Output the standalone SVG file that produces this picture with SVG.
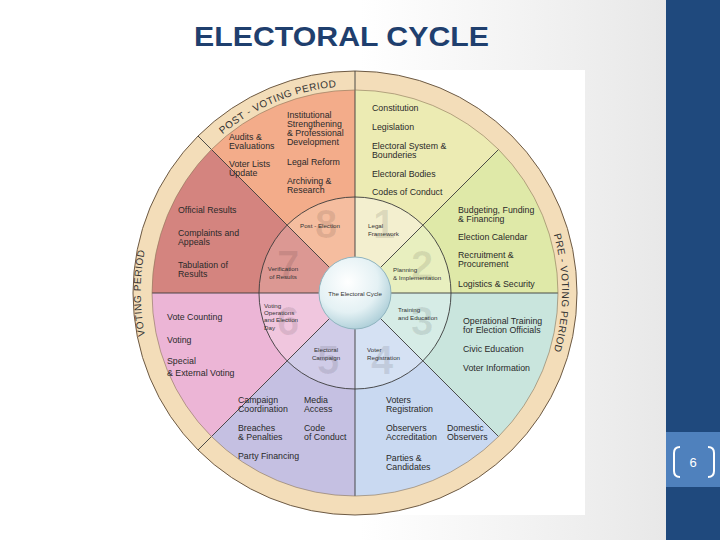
<svg xmlns="http://www.w3.org/2000/svg" width="720" height="540" viewBox="0 0 720 540">
<defs>
<linearGradient id="bg" x1="0" y1="0" x2="1" y2="0"><stop offset="0.5" stop-color="#ffffff"/><stop offset="1" stop-color="#e4e4e4"/></linearGradient>
<radialGradient id="hub" cx="0.4" cy="0.35" r="0.7"><stop offset="0" stop-color="#ffffff"/><stop offset="0.6" stop-color="#e4f1f4"/><stop offset="1" stop-color="#a9ccd6"/></radialGradient>
<path id="arcPost" d="M209,146.6 A207,207 0 0 1 355,86"/>
<path id="arcPre" d="M534.3,189.5 A207,207 0 0 1 534.3,396.5"/>
<path id="arcVote" d="M160,382 A215,215 0 0 1 160,204"/>
</defs>
<style>
.t{font-family:"Liberation Sans",Arial,sans-serif;font-size:8.8px;fill:#2a2a2a}
.s{font-family:"Liberation Sans",Arial,sans-serif;font-size:6.2px;fill:#333}
.d{font-family:"Liberation Sans",Arial,sans-serif;font-size:40px;font-weight:bold;fill:#000;fill-opacity:0.09;text-anchor:middle;dominant-baseline:central}
.r{font-family:"Liberation Sans",Arial,sans-serif;font-size:10px;fill:#333;letter-spacing:0.5px}
.ln{stroke:#3a3a3a;stroke-width:0.9;fill:none}
</style>
<rect width="720" height="540" fill="url(#bg)"/>
<rect x="666" y="0" width="54" height="540" fill="#1f497d"/>
<rect x="666" y="432" width="54" height="55" fill="#4f81bd"/>
<g id="pagenum" fill="none" stroke="#fff" stroke-width="2">
<path d="M680,447 Q674,447 674,453 L674,471 Q674,477 680,477"/>
<path d="M708,447 Q714,447 714,453 L714,471 Q714,477 708,477"/>
</g>
<text x="693" y="467" font-family="Liberation Sans,Arial,sans-serif" font-size="13" fill="#fff" text-anchor="middle">6</text>
<text x="194" y="46" font-family="Liberation Sans,Arial,sans-serif" font-size="27" font-weight="bold" fill="#1f3f6e" textLength="295" lengthAdjust="spacingAndGlyphs">ELECTORAL CYCLE</text>
<rect x="145" y="70" width="440" height="445" fill="#ffffff"/>
<g id="wheel">
<circle cx="355" cy="293" r="222" fill="#f3ddb9" stroke="#6d5a44" stroke-width="1"/>
<g id="outer">
<path d="M355,293 L355,90 A203,203 0 0 1 498.5,149.5 Z" fill="#ecebb3"/>
<path d="M355,293 L498.5,149.5 A203,203 0 0 1 558,293 Z" fill="#dfe9a8"/>
<path d="M355,293 L558,293 A203,203 0 0 1 498.5,436.5 Z" fill="#c9e5dd"/>
<path d="M355,293 L498.5,436.5 A203,203 0 0 1 355,496 Z" fill="#c9d9f1"/>
<path d="M355,293 L355,496 A203,203 0 0 1 211.5,436.5 Z" fill="#c5c0e2"/>
<path d="M355,293 L211.5,436.5 A203,203 0 0 1 152,293 Z" fill="#ecb5d6"/>
<path d="M355,293 L152,293 A203,203 0 0 1 211.5,149.5 Z" fill="#d4847f"/>
<path d="M355,293 L211.5,149.5 A203,203 0 0 1 355,90 Z" fill="#f3ac8a"/>
</g>
<g id="inner">
<path d="M355,293 L355,197 A96,96 0 0 1 422.9,225.1 Z" fill="#f3efcf"/>
<path d="M355,293 L422.9,225.1 A96,96 0 0 1 451,293 Z" fill="#e8efbf"/>
<path d="M355,293 L451,293 A96,96 0 0 1 422.9,360.9 Z" fill="#d6ece6"/>
<path d="M355,293 L422.9,360.9 A96,96 0 0 1 355,389 Z" fill="#d5e1f3"/>
<path d="M355,293 L355,389 A96,96 0 0 1 287.1,360.9 Z" fill="#d0cce8"/>
<path d="M355,293 L287.1,360.9 A96,96 0 0 1 259,293 Z" fill="#f0c6de"/>
<path d="M355,293 L259,293 A96,96 0 0 1 287.1,225.1 Z" fill="#dc9893"/>
<path d="M355,293 L287.1,225.1 A96,96 0 0 1 355,197 Z" fill="#f5bd9f"/>
</g>
<g id="digits">
<text class="d" x="384" y="224">1</text>
<text class="d" x="422" y="265">2</text>
<text class="d" x="422" y="321">3</text>
<text class="d" x="382" y="360">4</text>
<text class="d" x="328" y="360">5</text>
<text class="d" x="288" y="321">6</text>
<text class="d" x="288" y="265">7</text>
<text class="d" x="326" y="224">8</text>
</g>
</g>
<g id="connectors" class="ln">
<path d="M355,71 L355,496 M152,293 L558,293 M498.5,149.5 L211.5,436.5 M211.5,149.5 L498.5,436.5"/>
<path d="M198,136 L211.5,149.5 M198,450 L211.5,436.5"/>
<circle cx="355" cy="293" r="96"/>
<circle cx="355" cy="293" r="203" stroke="#8a7358" stroke-width="0.6"/>
</g>
<g id="hubnode">
<circle cx="355" cy="293" r="36" fill="url(#hub)" stroke="#8fb4bf" stroke-width="1"/>
<text x="355" y="296" class="s" text-anchor="middle">The Electoral Cycle</text>
</g>
<g id="ringlabels">
<text class="r"><textPath href="#arcPost" startOffset="50%" text-anchor="middle">POST - VOTING PERIOD</textPath></text>
<text class="r"><textPath href="#arcPre" startOffset="50%" text-anchor="middle">PRE - VOTING PERIOD</textPath></text>
<text class="r"><textPath href="#arcVote" startOffset="50%" text-anchor="middle">VOTING PERIOD</textPath></text>
</g>
<g id="n8" class="t">
<text x="287" y="118">Institutional</text><text x="287" y="127">Strengthening</text><text x="287" y="136">&amp; Professional</text><text x="287" y="145">Development</text>
<text x="229" y="140">Audits &amp;</text><text x="229" y="149">Evaluations</text>
<text x="229" y="167">Voter Lists</text><text x="229" y="176">Update</text>
<text x="287" y="165">Legal Reform</text>
<text x="287" y="184">Archiving &amp;</text><text x="287" y="193">Research</text>
<text class="s" x="320" y="228" text-anchor="middle">Post - Election</text>
</g>
<g id="n1" class="t">
<text x="372" y="111">Constitution</text>
<text x="372" y="130">Legislation</text>
<text x="372" y="149">Electoral System &amp;</text><text x="372" y="158">Bounderies</text>
<text x="372" y="177">Electoral Bodies</text>
<text x="372" y="195">Codes of Conduct</text>
<text class="s" x="368" y="228">Legal</text><text class="s" x="368" y="236">Framework</text>
</g>
<g id="n2" class="t">
<text x="458" y="213">Budgeting, Funding</text><text x="458" y="222">&amp; Financing</text>
<text x="458" y="240">Election Calendar</text>
<text x="458" y="258">Recruitment &amp;</text><text x="458" y="267">Procurement</text>
<text x="458" y="287">Logistics &amp; Security</text>
<text class="s" x="393" y="272">Planning</text><text class="s" x="393" y="280">&amp; Implementation</text>
</g>
<g id="n7" class="t">
<text x="178" y="213">Official Results</text>
<text x="178" y="236">Complaints and</text><text x="178" y="245">Appeals</text>
<text x="178" y="268">Tabulation of</text><text x="178" y="277">Results</text>
<text class="s" x="283" y="271" text-anchor="middle">Verification</text><text class="s" x="283" y="279" text-anchor="middle">of Results</text>
</g>
<g id="n6" class="t">
<text x="167" y="320">Vote Counting</text>
<text x="167" y="343">Voting</text>
<text x="167" y="364">Special</text><text x="167" y="376">&amp; External Voting</text>
<text class="s" x="264" y="308">Voting</text><text class="s" x="264" y="315">Operations</text><text class="s" x="264" y="322">and Election</text><text class="s" x="264" y="330">Day</text>
</g>
<g id="n3" class="t">
<text x="463" y="324">Operational Training</text><text x="463" y="333">for Election Officials</text>
<text x="463" y="352">Civic Education</text>
<text x="463" y="371">Voter Information</text>
<text class="s" x="398" y="312">Training</text><text class="s" x="398" y="320">and Education</text>
</g>
<g id="n5" class="t">
<text x="238" y="403">Campaign</text><text x="238" y="412">Coordination</text>
<text x="304" y="403">Media</text><text x="304" y="412">Access</text>
<text x="238" y="431">Breaches</text><text x="238" y="440">&amp; Penalties</text>
<text x="304" y="431">Code</text><text x="304" y="440">of Conduct</text>
<text x="238" y="459">Party Financing</text>
<text class="s" x="326" y="352" text-anchor="middle">Electoral</text><text class="s" x="326" y="360" text-anchor="middle">Campaign</text>
</g>
<g id="n4" class="t">
<text x="386" y="403">Voters</text><text x="386" y="412">Registration</text>
<text x="386" y="431">Observers</text><text x="386" y="440">Accreditation</text>
<text x="447" y="431">Domestic</text><text x="447" y="440">Observers</text>
<text x="386" y="461">Parties &amp;</text><text x="386" y="470">Candidates</text>
<text class="s" x="367" y="352">Voter</text><text class="s" x="367" y="360">Registration</text>
</g>
</svg>
